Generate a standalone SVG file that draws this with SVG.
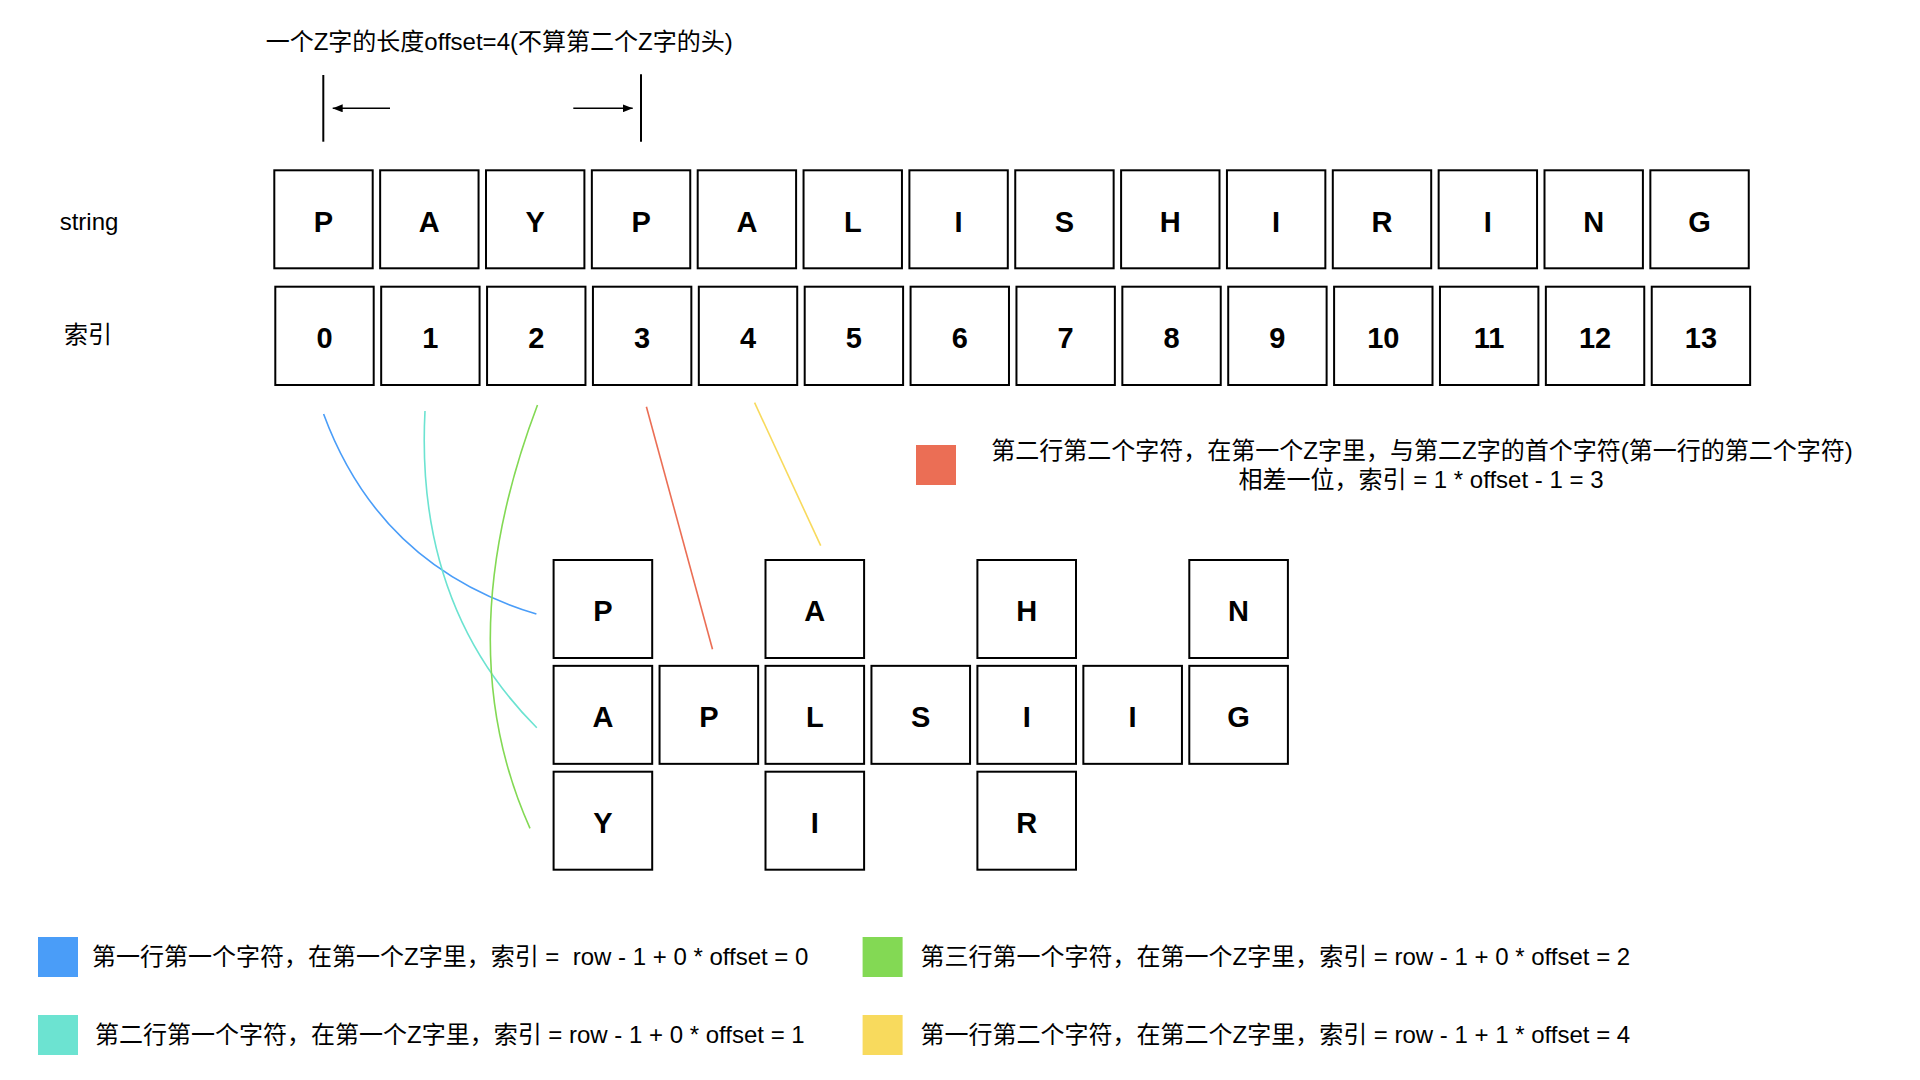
<svg xmlns="http://www.w3.org/2000/svg" width="1920" height="1080" viewBox="0 0 1920 1080">
<defs>
<style>
text{font-family:"Liberation Sans","Noto Sans CJK SC",sans-serif;fill:#000;}
.lbl{font-size:24px;}
.ch{font-size:29px;font-weight:bold;text-anchor:middle;}
.box{fill:#fff;stroke:#000;stroke-width:2;}
.dim{stroke:#000;stroke-width:2;fill:none;}
.arr{stroke:#000;stroke-width:1.6;fill:none;}
.cv{fill:none;stroke-width:1.6;}
</style>
<marker id="ah" markerUnits="userSpaceOnUse" markerWidth="10" markerHeight="8" refX="10" refY="4" orient="auto">
<path d="M0,0 L10,4 L0,8 z" fill="#000"/>
</marker>
</defs>
<rect width="1920" height="1080" fill="#fff"/>

<g id="header">
<text class="lbl" x="265.7" y="50">一个Z字的长度offset=4(不算第二个Z字的头)</text>
<line class="dim" x1="323.3" y1="75" x2="323.3" y2="141.7"/>
<line class="dim" x1="641" y1="74.3" x2="641" y2="141.7"/>
<line class="arr" x1="390" y1="108.3" x2="332.7" y2="108.3" marker-end="url(#ah)"/>
<line class="arr" x1="573.3" y1="108.3" x2="632.7" y2="108.3" marker-end="url(#ah)"/>
</g>

<g id="row-labels">
<text class="lbl" x="89" y="230" text-anchor="middle">string</text>
<text class="lbl" x="88" y="343" text-anchor="middle">索引</text>
</g>

<g id="string-row">
<g id="s0"><rect class="box" x="274.3" y="170.3" width="98.4" height="98"/><text class="ch" x="323.5" y="231.7">P</text></g>
<g id="s1"><rect class="box" x="380.15" y="170.3" width="98.4" height="98"/><text class="ch" x="429.35" y="231.7">A</text></g>
<g id="s2"><rect class="box" x="486" y="170.3" width="98.4" height="98"/><text class="ch" x="535.2" y="231.7">Y</text></g>
<g id="s3"><rect class="box" x="591.85" y="170.3" width="98.4" height="98"/><text class="ch" x="641.05" y="231.7">P</text></g>
<g id="s4"><rect class="box" x="697.7" y="170.3" width="98.4" height="98"/><text class="ch" x="746.9" y="231.7">A</text></g>
<g id="s5"><rect class="box" x="803.55" y="170.3" width="98.4" height="98"/><text class="ch" x="852.75" y="231.7">L</text></g>
<g id="s6"><rect class="box" x="909.4" y="170.3" width="98.4" height="98"/><text class="ch" x="958.6" y="231.7">I</text></g>
<g id="s7"><rect class="box" x="1015.25" y="170.3" width="98.4" height="98"/><text class="ch" x="1064.45" y="231.7">S</text></g>
<g id="s8"><rect class="box" x="1121.1" y="170.3" width="98.4" height="98"/><text class="ch" x="1170.3" y="231.7">H</text></g>
<g id="s9"><rect class="box" x="1226.95" y="170.3" width="98.4" height="98"/><text class="ch" x="1276.15" y="231.7">I</text></g>
<g id="s10"><rect class="box" x="1332.8" y="170.3" width="98.4" height="98"/><text class="ch" x="1382" y="231.7">R</text></g>
<g id="s11"><rect class="box" x="1438.65" y="170.3" width="98.4" height="98"/><text class="ch" x="1487.85" y="231.7">I</text></g>
<g id="s12"><rect class="box" x="1544.5" y="170.3" width="98.4" height="98"/><text class="ch" x="1593.7" y="231.7">N</text></g>
<g id="s13"><rect class="box" x="1650.35" y="170.3" width="98.4" height="98"/><text class="ch" x="1699.55" y="231.7">G</text></g>
</g>

<g id="index-row">
<g id="i0"><rect class="box" x="275.3" y="286.7" width="98.4" height="98.3"/><text class="ch" x="324.5" y="348.3">0</text></g>
<g id="i1"><rect class="box" x="381.18" y="286.7" width="98.4" height="98.3"/><text class="ch" x="430.38" y="348.3">1</text></g>
<g id="i2"><rect class="box" x="487.06" y="286.7" width="98.4" height="98.3"/><text class="ch" x="536.26" y="348.3">2</text></g>
<g id="i3"><rect class="box" x="592.94" y="286.7" width="98.4" height="98.3"/><text class="ch" x="642.14" y="348.3">3</text></g>
<g id="i4"><rect class="box" x="698.82" y="286.7" width="98.4" height="98.3"/><text class="ch" x="748.02" y="348.3">4</text></g>
<g id="i5"><rect class="box" x="804.7" y="286.7" width="98.4" height="98.3"/><text class="ch" x="853.9" y="348.3">5</text></g>
<g id="i6"><rect class="box" x="910.58" y="286.7" width="98.4" height="98.3"/><text class="ch" x="959.78" y="348.3">6</text></g>
<g id="i7"><rect class="box" x="1016.46" y="286.7" width="98.4" height="98.3"/><text class="ch" x="1065.66" y="348.3">7</text></g>
<g id="i8"><rect class="box" x="1122.34" y="286.7" width="98.4" height="98.3"/><text class="ch" x="1171.54" y="348.3">8</text></g>
<g id="i9"><rect class="box" x="1228.22" y="286.7" width="98.4" height="98.3"/><text class="ch" x="1277.42" y="348.3">9</text></g>
<g id="i10"><rect class="box" x="1334.1" y="286.7" width="98.4" height="98.3"/><text class="ch" x="1383.3" y="348.3">10</text></g>
<g id="i11"><rect class="box" x="1439.98" y="286.7" width="98.4" height="98.3"/><text class="ch" x="1489.18" y="348.3">11</text></g>
<g id="i12"><rect class="box" x="1545.86" y="286.7" width="98.4" height="98.3"/><text class="ch" x="1595.06" y="348.3">12</text></g>
<g id="i13"><rect class="box" x="1651.74" y="286.7" width="98.4" height="98.3"/><text class="ch" x="1700.94" y="348.3">13</text></g>
</g>

<g id="connectors">
<path class="cv" stroke="#4A9DF8" d="M323.6,414 Q380,567 536.4,614"/>
<path class="cv" stroke="#6CE3D1" d="M425,411 Q414.9,605.8 536.8,727.7"/>
<path class="cv" stroke="#83D954" d="M537.5,405 Q447,643.4 530,828.3"/>
<line class="cv" stroke="#EB6E55" x1="646.4" y1="406.7" x2="712.5" y2="649.3"/>
<line class="cv" stroke="#F8DA5D" x1="754.6" y1="402.7" x2="820.7" y2="545.7"/>
</g>

<g id="zigzag">
<g id="g0-0"><rect class="box" x="553.6" y="560" width="98.6" height="98"/><text class="ch" x="602.9" y="621.4">P</text></g>
<g id="g0-2"><rect class="box" x="765.5" y="560" width="98.6" height="98"/><text class="ch" x="814.8" y="621.4">A</text></g>
<g id="g0-4"><rect class="box" x="977.4" y="560" width="98.6" height="98"/><text class="ch" x="1026.7" y="621.4">H</text></g>
<g id="g0-6"><rect class="box" x="1189.3" y="560" width="98.6" height="98"/><text class="ch" x="1238.6" y="621.4">N</text></g>
<g id="g1-0"><rect class="box" x="553.6" y="665.85" width="98.6" height="98"/><text class="ch" x="602.9" y="727.3">A</text></g>
<g id="g1-1"><rect class="box" x="659.55" y="665.85" width="98.6" height="98"/><text class="ch" x="708.85" y="727.3">P</text></g>
<g id="g1-2"><rect class="box" x="765.5" y="665.85" width="98.6" height="98"/><text class="ch" x="814.8" y="727.3">L</text></g>
<g id="g1-3"><rect class="box" x="871.45" y="665.85" width="98.6" height="98"/><text class="ch" x="920.75" y="727.3">S</text></g>
<g id="g1-4"><rect class="box" x="977.4" y="665.85" width="98.6" height="98"/><text class="ch" x="1026.7" y="727.3">I</text></g>
<g id="g1-5"><rect class="box" x="1083.35" y="665.85" width="98.6" height="98"/><text class="ch" x="1132.65" y="727.3">I</text></g>
<g id="g1-6"><rect class="box" x="1189.3" y="665.85" width="98.6" height="98"/><text class="ch" x="1238.6" y="727.3">G</text></g>
<g id="g2-0"><rect class="box" x="553.6" y="771.7" width="98.6" height="98"/><text class="ch" x="602.9" y="833.1">Y</text></g>
<g id="g2-2"><rect class="box" x="765.5" y="771.7" width="98.6" height="98"/><text class="ch" x="814.8" y="833.1">I</text></g>
<g id="g2-4"><rect class="box" x="977.4" y="771.7" width="98.6" height="98"/><text class="ch" x="1026.7" y="833.1">R</text></g>
</g>

<g id="legend-red">
<rect x="916" y="445" width="40" height="40" fill="#EB6E55"/>
<text class="lbl" x="1422" y="459" text-anchor="middle">第二行第二个字符，在第一个Z字里，与第二Z字的首个字符(第一行的第二个字符)</text>
<text class="lbl" x="1421" y="488" text-anchor="middle">相差一位，索引 = 1 * offset - 1 = 3</text>
</g>

<g id="legend-blue">
<rect x="38" y="937" width="40" height="40" fill="#4A9DF8"/>
<text class="lbl" x="92" y="965" xml:space="preserve">第一行第一个字符，在第一个Z字里，索引 =  row - 1 + 0 * offset = 0</text>
</g>
<g id="legend-teal">
<rect x="38" y="1015" width="40" height="40" fill="#6CE3D1"/>
<text class="lbl" x="95" y="1043">第二行第一个字符，在第一个Z字里，索引 = row - 1 + 0 * offset = 1</text>
</g>
<g id="legend-green">
<rect x="862.6" y="937" width="40" height="40" fill="#83D954"/>
<text class="lbl" x="920.5" y="965">第三行第一个字符，在第一个Z字里，索引 = row - 1 + 0 * offset = 2</text>
</g>
<g id="legend-yellow">
<rect x="862.6" y="1015" width="40" height="40" fill="#F8DA5D"/>
<text class="lbl" x="920.5" y="1043">第一行第二个字符，在第二个Z字里，索引 = row - 1 + 1 * offset = 4</text>
</g>
</svg>
